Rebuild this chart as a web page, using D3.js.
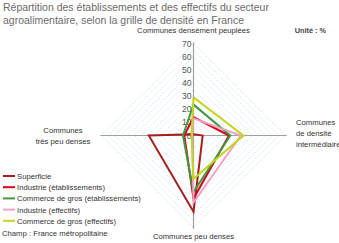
<!DOCTYPE html>
<html><head><meta charset="utf-8">
<script src="https://cdn.jsdelivr.net/npm/d3@7"></script>
<style>
body{margin:0;background:#fff;}
text{font-family:"Liberation Sans",Arial,sans-serif;}
</style></head>
<body><svg id="c" width="339" height="243"></svg>
<script>
const axesLabels = [
  ["Communes densément peuplées"],
  ["Communes","de densité","intermédiaire"],
  ["Communes peu denses"],
  ["Communes","très peu denses"]
];
const seriesNames = ["Superficie","Industrie (établissements)","Commerce de gros (établissements)","Industrie (effectifs)","Commerce de gros (effectifs)"];
const seriesColors = ["#a3201f","#d9001b","#3d9a3d","#f0a3c4","#c5d41c"];
// values: top (densément peuplées), right (intermédiaire), bottom (peu denses), left (très peu denses)
const superficie = [1, 7, 58, 34];
const industrieEtab = [14, 27, 48, 7];
const commerceEtab = [23.5, 28, 43, 8];
const industrieEff = [13, 36, 51, 1];
const commerceEff = [29, 38, 33, 1.5];
const ticks = [0,10,20,30,40,50,60,70];
const gridLevels = d3.range(5, 71, 5);

const allSeries = [superficie, industrieEtab, commerceEtab, industrieEff, commerceEff];
const svg = d3.select("#c");
const cx = 193.5, cy = 135.5;
const r = d3.scaleLinear().domain([0,70]).range([0,92]);
const ang = i => -Math.PI/2 + i*Math.PI/2;
const pt = (v,i) => [cx + r(v)*Math.cos(ang(i)), cy + r(v)*Math.sin(ang(i))];

// grid
gridLevels.forEach(l => {
  svg.append("path")
    .attr("d", d3.line()([0,1,2,3,0].map(i => pt(l,i))))
    .attr("fill","none").attr("stroke","#a9cbe6").attr("stroke-width",0.8)
    .attr("stroke-dasharray","1,2");
});
// axes
[0,1,2,3].forEach(i => {
  const p = pt(71,i);
  svg.append("line").attr("x1",cx).attr("y1",cy).attr("x2",p[0]).attr("y2",p[1])
    .attr("stroke","#a0a0a0").attr("stroke-width",1.2);
});
// tick labels
ticks.forEach(t => {
  svg.append("text").attr("x",cx-2).attr("y",cy - r(t)+3)
    .attr("text-anchor","end").attr("font-size",8.5).attr("fill","#555").text(t);
});
// series
allSeries.forEach((s,k) => {
  svg.append("path")
    .attr("d", d3.line()([0,1,2,3,0].map(i => pt(s[i],i))))
    .attr("fill","none").attr("stroke",seriesColors[k]).attr("stroke-width",2)
    .attr("stroke-linejoin","miter");
});
// title
const title = ["Répartition des établissements et des effectifs du secteur","agroalimentaire, selon la grille de densité en France"];
title.forEach((t,i) => svg.append("text").attr("x",3).attr("y",11+i*13)
  .attr("font-size",10.5).attr("fill","#6b6b6b").text(t));
svg.append("text").attr("x",326).attr("y",33).attr("text-anchor","end")
  .attr("font-size",7.3).attr("font-weight","bold").attr("fill","#444").text("Unité : %");
// axis labels
const lab = (lines, x, y, anchor) => lines.forEach((t,i) =>
  svg.append("text").attr("x",x).attr("y",y+i*11).attr("text-anchor",anchor)
    .attr("font-size",7.7).attr("fill","#333").text(t));
lab(axesLabels[0], cx, 33, "middle");
lab(axesLabels[1], 296, 125, "start");
lab(axesLabels[2], cx, 239, "middle");
lab(axesLabels[3], 63, 133, "middle");
// legend
seriesNames.forEach((n,k) => {
  const y = 176 + k*11.2;
  svg.append("line").attr("x1",3).attr("x2",15).attr("y1",y).attr("y2",y)
    .attr("stroke",seriesColors[k]).attr("stroke-width",2);
  svg.append("text").attr("x",17).attr("y",y+3).attr("font-size",7.7).attr("fill","#333").text(n);
});
svg.append("text").attr("x",2).attr("y",236).attr("font-size",7.7).attr("fill","#333").text("Champ : France métropolitaine");
</script></body></html>
